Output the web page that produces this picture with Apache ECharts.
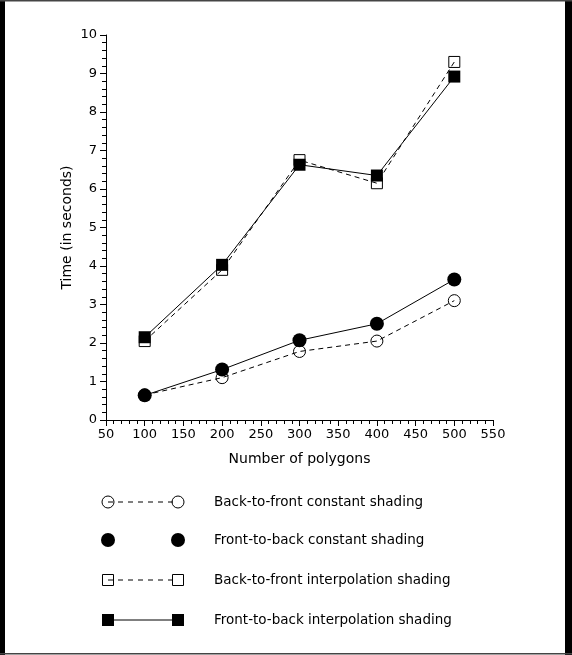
<!DOCTYPE html>
<html>
<head>
<meta charset="utf-8">
<script src="https://cdn.jsdelivr.net/npm/echarts@6/dist/echarts.min.js"></script>
<style>
  html, body { margin: 0; padding: 0; background: #fff; }
  #chart { width: 572px; height: 655px; }
</style>
</head>
<body>
<div id="chart"></div>
<script>
// Rendering times versus polygon count
var polygons = [100, 200, 300, 400, 500];
var btfConstant = [0.65, 1.1, 1.78, 2.05, 3.1];
var ftbConstant = [0.64, 1.31, 2.07, 2.5, 3.65];
var btfInterp = [2.05, 3.9, 6.75, 6.15, 9.3];
var ftbInterp = [2.15, 4.03, 6.63, 6.35, 8.92];
var seriesNames = [
  'Back-to-front constant shading',
  'Front-to-back constant shading',
  'Back-to-front interpolation shading',
  'Front-to-back interpolation shading'
];
var xTicks = { min: 50, max: 550, step: 50 };
var yTicks = { min: 0, max: 10, step: 1 };

var FONT = 'DejaVu Sans';
var INK = '#000';

function pairs(vals) {
  return polygons.map(function (p, i) { return [p, vals[i]]; });
}

var chart = echarts.init(document.getElementById('chart'), null, { renderer: 'canvas' });

var axisCommon = {
  axisLine: { lineStyle: { color: INK, width: 1 } },
  axisTick: { show: true, inside: false, length: 6, lineStyle: { color: INK, width: 1 } },
  minorTick: { show: true, splitNumber: 5, length: 4, lineStyle: { color: INK, width: 1 } },
  splitLine: { show: false },
  axisLabel: { color: INK, fontFamily: FONT, fontSize: 13 },
  nameTextStyle: { color: INK, fontFamily: FONT, fontSize: 14 },
  nameMoveOverlap: false
};

// Legend rows: marker pairs joined by the series' line style
var legendRows = [
  { y: 502, kind: 'openCircle', dashed: true, line: true },
  { y: 540, kind: 'filledCircle', dashed: false, line: false },
  { y: 580, kind: 'openSquare', dashed: true, line: true },
  { y: 620, kind: 'filledSquare', dashed: false, line: true }
];
var legendX1 = 108, legendX2 = 178, legendTextX = 214;

function marker(kind, cx, cy) {
  if (kind === 'openCircle') {
    return { type: 'circle', shape: { cx: cx, cy: cy, r: 6 }, style: { fill: 'none', stroke: INK, lineWidth: 1 }, z: 10 };
  }
  if (kind === 'filledCircle') {
    return { type: 'circle', shape: { cx: cx, cy: cy, r: 7 }, style: { fill: INK }, z: 10 };
  }
  if (kind === 'openSquare') {
    return { type: 'rect', shape: { x: cx - 5.5, y: cy - 5.5, width: 11, height: 11 }, style: { fill: 'none', stroke: INK, lineWidth: 1 }, z: 10 };
  }
  return { type: 'rect', shape: { x: cx - 6, y: cy - 6, width: 12, height: 12 }, style: { fill: INK }, z: 10 };
}

var graphics = [
  // page frame
  { type: 'rect', shape: { x: 0, y: 0, width: 5, height: 655 }, style: { fill: INK }, z: 20 },
  { type: 'rect', shape: { x: 565, y: 0, width: 7, height: 655 }, style: { fill: INK }, z: 20 },
  { type: 'rect', shape: { x: 0, y: 0, width: 572, height: 1.5 }, style: { fill: '#444' }, z: 20 },
  { type: 'rect', shape: { x: 0, y: 653, width: 572, height: 1.5 }, style: { fill: '#444' }, z: 20 }
];

legendRows.forEach(function (row, i) {
  if (row.line) {
    graphics.push({
      type: 'line',
      shape: { x1: legendX1, y1: row.y, x2: legendX2, y2: row.y },
      style: { stroke: INK, lineWidth: 1, lineDash: row.dashed ? [5, 5] : null },
      z: 5
    });
  }
  graphics.push(marker(row.kind, legendX1, row.y));
  graphics.push(marker(row.kind, legendX2, row.y));
  graphics.push({
    type: 'text',
    x: legendTextX, y: row.y,
    style: { text: seriesNames[i], fill: INK, font: '13.5px "' + FONT + '"', verticalAlign: 'middle', align: 'left' },
    z: 10
  });
});

var option = {
  backgroundColor: '#fff',
  animation: false,
  grid: { left: 106, right: 79, top: 35, bottom: 235, containLabel: false },
  xAxis: Object.assign({}, axisCommon, {
    type: 'value',
    min: xTicks.min, max: xTicks.max, interval: xTicks.step,
    name: 'Number of polygons', nameLocation: 'middle', nameGap: 32,
    axisLabel: Object.assign({}, axisCommon.axisLabel, { margin: 8 })
  }),
  yAxis: Object.assign({}, axisCommon, {
    type: 'value',
    min: yTicks.min, max: yTicks.max, interval: yTicks.step,
    name: 'Time (in seconds)', nameLocation: 'middle', nameGap: 32,
    axisLabel: Object.assign({}, axisCommon.axisLabel, { margin: 9 })
  }),
  series: [
    {
      name: seriesNames[0], type: 'line', data: pairs(btfConstant),
      symbol: 'circle', symbolSize: 12,
      lineStyle: { color: INK, width: 1, type: [5, 4] },
      itemStyle: { color: 'rgba(0,0,0,0)', borderColor: INK, borderWidth: 1 },
      z: 2
    },
    {
      name: seriesNames[1], type: 'line', data: pairs(ftbConstant),
      symbol: 'circle', symbolSize: 14,
      lineStyle: { color: INK, width: 1, type: 'solid' },
      itemStyle: { color: INK, borderWidth: 0 },
      z: 3
    },
    {
      name: seriesNames[2], type: 'line', data: pairs(btfInterp),
      symbol: 'rect', symbolSize: 11,
      lineStyle: { color: INK, width: 1, type: [5, 4] },
      itemStyle: { color: 'rgba(0,0,0,0)', borderColor: INK, borderWidth: 1 },
      z: 2
    },
    {
      name: seriesNames[3], type: 'line', data: pairs(ftbInterp),
      symbol: 'rect', symbolSize: 12,
      lineStyle: { color: INK, width: 1, type: 'solid' },
      itemStyle: { color: INK, borderWidth: 0 },
      z: 3
    }
  ],
  graphic: graphics
};

chart.setOption(option);
</script>
</body>
</html>
